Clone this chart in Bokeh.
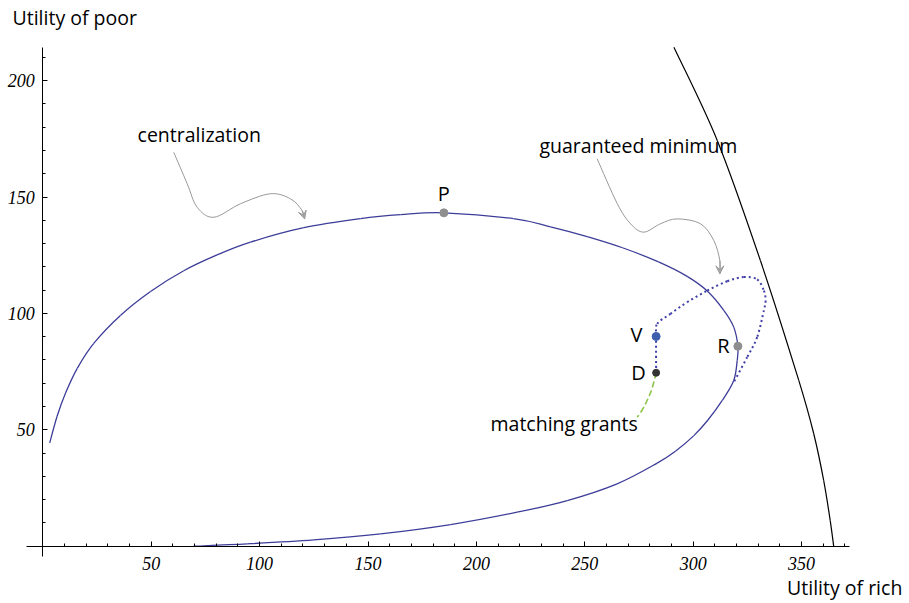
from bokeh.plotting import figure
from bokeh.models import Range1d, FixedTicker, Label, Arrow, VeeHead
from bokeh.embed import file_html
from bokeh.resources import INLINE

# ---- data ----
central_x = [3.2, 6.6, 10.5, 15.9, 23.5, 35.8, 49.7, 65.0, 80.4, 95.8, 120.4, 146.5, 165.0, 185.0,
             217.1, 234.2, 251.1, 267.4, 284.0, 297.2, 306.5, 314.2, 318.7, 320.6, 320.3, 318.7,
             313.4, 306.8, 300.3, 291.8, 283.4, 264.9, 241.9, 218.8, 188.1, 155.8, 125.0, 94.3, 69.6]
central_y = [44.4, 55.8, 65.8, 76.4, 87.1, 99.1, 109.4, 118.3, 125.1, 130.6, 136.8, 140.7, 142.4, 143.2,
             140.7, 137.2, 133.0, 128.2, 122.1, 115.9, 109.6, 101.2, 94.1, 85.9, 79.8, 71.2,
             62.6, 54.2, 47.5, 40.8, 35.7, 26.8, 19.6, 14.6, 9.3, 5.3, 2.7, 1.0, 0.0]

guaranteed_x = [282.9, 282.9, 283.4, 289.5, 297.2, 306.5, 315.7, 323.3, 329.5, 332.6, 333.4, 332.6,
                329.5, 324.9, 318.7]
guaranteed_y = [74.5, 90.1, 95.5, 99.8, 104.8, 109.8, 113.8, 115.6, 114.6, 109.8, 105.5, 101.3,
                89.8, 81.2, 70.4]

matching_x = [282.9, 280.7, 277.2, 274.2]
matching_y = [74.5, 66.9, 59.7, 55.4]

frontier_x = [291.1, 311.1, 331.0, 348.7, 355.6, 360.2, 363.2, 364.8]
frontier_y = [214.3, 174.3, 122.7, 71.2, 48.3, 28.2, 11.0, 0.0]

gray_points_x = [185.0, 320.6]   # P, R
gray_points_y = [143.2, 85.9]
point_V = (282.9, 90.1)
point_D = (282.9, 74.5)

arrow1_x = [60.4, 66.6, 71.2, 78.9, 91.2, 105.0, 114.3, 119.6, 120.8]
arrow1_y = [169.2, 155.7, 145.6, 141.3, 147.1, 151.4, 149.2, 144.2, 140.6]
arrow2_x = [255.7, 265.0, 271.1, 277.2, 284.9, 292.6, 303.4, 309.5, 312.3, 312.3]
arrow2_y = [166.4, 147.1, 138.5, 134.9, 138.5, 140.6, 138.5, 131.3, 122.7, 117.0]

x_ticks = [50, 100, 150, 200, 250, 300, 350]
x_minor = [v for v in range(10, 380, 10) if v % 50]
y_ticks = [50, 100, 150, 200]
y_minor = [v for v in range(10, 220, 10) if v % 50]

BLUE = "#3d3d99"
SANS = "Open Sans"

W, H = 906, 601
p = figure(width=W, height=H, output_backend="svg", toolbar_location=None,
           x_range=Range1d(-42.3 / 2.168, (W - 42.3) / 2.168),
           y_range=Range1d((545.7 - H) / 2.328, 545.7 / 2.328),
           min_border=0, min_border_left=0, min_border_right=0,
           min_border_top=0, min_border_bottom=0)
p.grid.visible = False
p.outline_line_color = None
p.background_fill_color = "white"

p.xaxis.fixed_location = 0
p.yaxis.fixed_location = 0
p.xaxis.bounds = (-7.5, 372)
p.yaxis.bounds = (-4.3, 214.3)
p.xaxis.ticker = FixedTicker(ticks=x_ticks, minor_ticks=x_minor)
p.yaxis.ticker = FixedTicker(ticks=y_ticks, minor_ticks=y_minor)
for ax in (p.xaxis, p.yaxis):
    ax.axis_line_color = "black"
    ax.axis_line_width = 1
    ax.major_tick_in = 5
    ax.major_tick_out = 0
    ax.minor_tick_in = 3
    ax.minor_tick_out = 0
    ax.major_tick_line_color = "black"
    ax.minor_tick_line_color = "black"
    ax.major_label_text_font = "Liberation Serif"
    ax.major_label_text_font_style = "italic"
    ax.major_label_text_font_size = "18px"
    ax.major_label_text_color = "black"
p.xaxis.major_label_standoff = 11
p.yaxis.major_label_standoff = 8


def smooth(xs, ys, **kw):
    """Draw a smooth (Catmull-Rom) path through the read points with Bezier glyphs."""
    n = len(xs)
    d = dict(x0=[], y0=[], x1=[], y1=[], cx0=[], cy0=[], cx1=[], cy1=[])
    for i in range(n - 1):
        im, ip2 = max(i - 1, 0), min(i + 2, n - 1)
        d["x0"].append(xs[i]); d["y0"].append(ys[i])
        d["x1"].append(xs[i + 1]); d["y1"].append(ys[i + 1])
        d["cx0"].append(xs[i] + (xs[i + 1] - xs[im]) / 6)
        d["cy0"].append(ys[i] + (ys[i + 1] - ys[im]) / 6)
        d["cx1"].append(xs[i + 1] - (xs[ip2] - xs[i]) / 6)
        d["cy1"].append(ys[i + 1] - (ys[ip2] - ys[i]) / 6)
    p.bezier(**d, **kw)


# curves
smooth(frontier_x, frontier_y, line_color="black", line_width=1.2)
smooth(central_x, central_y, line_color=BLUE, line_width=1.3)
smooth(guaranteed_x, guaranteed_y, line_color="#4040a8", line_width=2, line_dash="2 3")
smooth(matching_x, matching_y, line_color="#8cc34b", line_width=1.6, line_dash="6 3")

# annotation arrows
smooth(arrow1_x, arrow1_y, line_color="#999999", line_width=1)
smooth(arrow2_x, arrow2_y, line_color="#999999", line_width=1)
for ax_, ay_ in ((arrow1_x, arrow1_y), (arrow2_x, arrow2_y)):
    p.add_layout(Arrow(end=VeeHead(size=8, line_color="#999999", fill_color="#aaaaaa", line_width=1),
                       x_start=ax_[-2], y_start=ay_[-2], x_end=ax_[-1], y_end=ay_[-1],
                       line_color="#999999", line_width=1))

# points
p.scatter(gray_points_x, gray_points_y, size=8, color="#8e8e8e")
p.scatter([point_V[0]], [point_V[1]], size=8, color="#3f5fae")
p.scatter([point_D[0]], [point_D[1]], size=7, color="#333333")


def lab(x, y, t, align="left", size="19.5px"):
    p.add_layout(Label(x=x, y=y, text=t, text_font=SANS, text_font_size=size,
                       text_align=align, text_baseline="alphabetic", text_color="black"))


lab(-13.98, 227.2, "Utility of poor")
lab(343.3, -17.6, "Utility of rich")
lab(43.7, 177.0, "centralization")
lab(229.1, 172.2, "guaranteed minimum")
lab(206.5, 52.9, "matching grants")
lab(184.9, 151.7, "P", align="center", size="20px")
lab(271.1, 90.8, "V", size="20px")
lab(271.4, 74.7, "D", size="20px")
lab(311.1, 86.0, "R", size="20px")

open("out.html", "w").write(file_html(p, INLINE))
